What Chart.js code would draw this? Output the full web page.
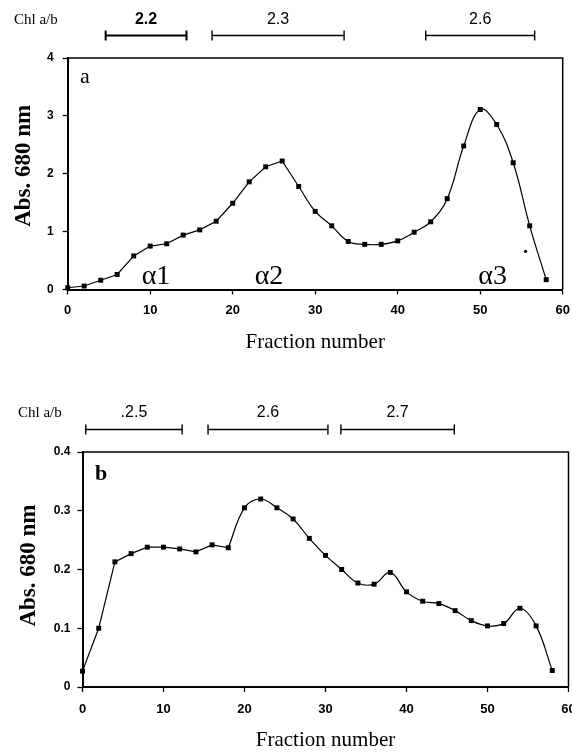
<!DOCTYPE html>
<html>
<head>
<meta charset="utf-8">
<script src="https://cdn.jsdelivr.net/npm/chart.js@4"></script>
<style>
  html, body { margin: 0; padding: 0; background: #fff; overflow: hidden; width: 572px; height: 753px; }
  .wrap { position: absolute; left: 0; width: 600px; }
</style>
</head>
<body>
<div class="wrap" style="top:0;height:375px"><canvas id="chartA"></canvas></div>
<div class="wrap" style="top:375px;height:378px"><canvas id="chartB"></canvas></div>
<script>
// fraction numbers (x) shared by both panels
const fractions = [0, 2, 4, 6, 8, 10, 12, 14, 16, 18, 20, 22, 24, 26, 28,
  30, 32, 34, 36, 38, 40, 42, 44, 46, 48, 50, 52, 54, 56, 58];

// panel a: Abs. 680 nm
const absA = [0.03, 0.06, 0.16, 0.26, 0.58, 0.75, 0.79, 0.94, 1.03, 1.18, 1.49, 1.86, 2.12, 2.22, 1.78,
  1.35, 1.10, 0.83, 0.78, 0.78, 0.84, 0.99, 1.17, 1.57, 2.48, 3.11, 2.85, 2.19, 1.10, 0.17];
const strayFractionA = [55.5];
const strayAbsA = [0.66];

// panel b: Abs. 680 nm
const absB = [0.027, 0.100, 0.213, 0.227, 0.238, 0.238, 0.235, 0.230, 0.242, 0.237, 0.305, 0.320, 0.305, 0.286, 0.253,
  0.224, 0.200, 0.177, 0.175, 0.195, 0.162, 0.146, 0.142, 0.130, 0.113, 0.104, 0.108, 0.134, 0.104, 0.028];

// Chl a/b ranges (fraction numbers) drawn above each panel
const chlRangesA = [[4.6, 14.4], [17.5, 33.5], [43.4, 56.6]];
const chlLabelsA = ['2.2', '2.3', '2.6'];
const chlRangesB = [[0.4, 12.3], [15.5, 30.3], [31.9, 45.9]];
const chlLabelsB = ['.2.5', '2.6', '2.7'];

// peak names in panel a
const peakLabelsA = ['\u03b11', '\u03b12', '\u03b13'];
const peakFractionA = [10.7, 24.4, 51.5];

const pts = (xs, ys) => xs.map((x, i) => ({ x: x, y: ys[i] }));

const decor = {
  id: 'decor',
  afterDraw(chart, args, o) {
    const { ctx, chartArea: a, scales: { x, y } } = chart;
    ctx.save();
    ctx.strokeStyle = '#000';
    ctx.fillStyle = '#000';

    // top and right frame
    ctx.lineWidth = 1.5;
    ctx.beginPath();
    ctx.moveTo(a.left, a.top);
    ctx.lineTo(a.right, a.top);
    ctx.lineTo(a.right, a.bottom);
    ctx.stroke();

    // y axis title
    ctx.save();
    ctx.translate(o.yTitleX, (a.top + a.bottom) / 2 + o.yTitleShift);
    ctx.rotate(-Math.PI / 2);
    ctx.font = 'bold 23px "Liberation Serif"';
    ctx.textAlign = 'center';
    ctx.textBaseline = 'middle';
    ctx.fillText('Abs. 680 nm', 0, 0);
    ctx.restore();

    // Chl a/b bars
    const yb = a.top - o.barGap;
    o.ranges.forEach((r, i) => {
      const x0 = x.getPixelForValue(r[0]), x1 = x.getPixelForValue(r[1]);
      ctx.lineWidth = i === 0 && o.boldFirst ? 2 : 1.4;
      ctx.beginPath();
      ctx.moveTo(x0, yb); ctx.lineTo(x1, yb);
      ctx.moveTo(x0, yb - 5); ctx.lineTo(x0, yb + 5);
      ctx.moveTo(x1, yb - 5); ctx.lineTo(x1, yb + 5);
      ctx.stroke();
      ctx.font = (i === 0 && o.boldFirst ? 'bold ' : '') + '16px "Liberation Sans"';
      ctx.textAlign = 'center';
      ctx.textBaseline = 'alphabetic';
      ctx.fillText(o.labels[i], (x0 + x1) / 2, a.top - o.labelGap);
    });
    ctx.font = '15px "Liberation Serif"';
    ctx.textAlign = 'left';
    ctx.fillText('Chl a/b', o.chlX, a.top - o.labelGap);

    // panel letter
    ctx.font = o.letterFont;
    ctx.fillText(o.letter, x.getPixelForValue(o.letterPos[0]), y.getPixelForValue(o.letterPos[1]));

    // peak names
    if (o.peaks) {
      ctx.font = '28px "Liberation Serif"';
      ctx.textAlign = 'center';
      o.peaks.forEach((t, i) => {
        ctx.fillText(t, x.getPixelForValue(o.peakPos[i]), y.getPixelForValue(o.peakY));
      });
    }
    ctx.restore();
  }
};

function makeChart(id, ys, split, cfg) {
  return new Chart(document.getElementById(id), {
    type: 'line',
    data: {
      datasets: [
        {
          data: pts(fractions, ys), showLine: false, clip: false,
          pointStyle: 'rect', pointRadius: 3.5, pointBackgroundColor: '#000', pointBorderWidth: 0
        },
        {
          data: pts(fractions, ys).slice(0, split + 1), borderColor: '#000', borderWidth: 1.2,
          pointRadius: 0, tension: 0
        },
        {
          data: pts(fractions, ys).slice(split), borderColor: '#000', borderWidth: 1.2,
          pointRadius: 0, tension: 0.4
        }
      ].concat(cfg.extra || [])
    },
    options: {
      responsive: true,
      maintainAspectRatio: false,
      animation: false,
      layout: { padding: { left: 0, top: cfg.top, right: cfg.right, bottom: 0 } },
      plugins: { legend: { display: false }, tooltip: { enabled: false }, decor: cfg.decor },
      scales: {
        x: {
          type: 'linear', min: 0, max: 60,
          afterFit: s => { s.height = cfg.xHeight; },
          ticks: { stepSize: 10, color: '#000', padding: cfg.xTickPad, maxRotation: 0, font: { family: 'Liberation Sans', weight: 'bold', size: 13 } },
          grid: { drawOnChartArea: false, tickLength: 5, color: '#000', tickWidth: 1.3 },
          border: { color: '#000', width: 2 },
          title: { display: true, text: 'Fraction number', color: '#000', padding: { top: 0, bottom: cfg.xTitlePad }, font: { family: 'Liberation Serif', size: 21 } }
        },
        y: {
          min: 0, max: cfg.yMax,
          afterFit: s => { s.width = cfg.yWidth; },
          ticks: { stepSize: cfg.yStep, color: '#000', padding: cfg.yTickPad, font: { family: 'Liberation Sans', weight: 'bold', size: 12 } },
          grid: { drawOnChartArea: false, tickLength: 5, color: '#000', tickWidth: 1.3 },
          border: { color: '#000', width: 2 },
          title: { display: false }
        }
      }
    },
    plugins: [decor]
  });
}

makeChart('chartA', absA, 13, {
  top: 58, right: 37.3, xHeight: 85.5, xTitlePad: 20, xTickPad: 8, yWidth: 67.7, yTickPad: 9, yMax: 4, yStep: 1,
  extra: [{
    data: pts(strayFractionA, strayAbsA), showLine: false,
    pointStyle: 'circle', pointRadius: 1.6, pointBackgroundColor: '#000', pointBorderWidth: 0
  }],
  decor: {
    ranges: chlRangesA, labels: chlLabelsA, boldFirst: true, barGap: 22.5, labelGap: 34, chlX: 14,
    yTitleX: 24, yTitleShift: -8,
    letter: 'a', letterFont: '22px "Liberation Serif"', letterPos: [1.5, 3.57],
    peaks: peakLabelsA, peakPos: peakFractionA, peakY: 0.1
  }
});

makeChart('chartB', absB, 9, {
  top: 77, right: 31.5, xHeight: 66, xTitlePad: 0, xTickPad: 10, yWidth: 82.5, yTickPad: 7, yMax: 0.4, yStep: 0.1,
  decor: {
    ranges: chlRangesB, labels: chlLabelsB, boldFirst: false, barGap: 22.5, labelGap: 35, chlX: 18,
    yTitleX: 29, yTitleShift: -4,
    letter: 'b', letterFont: 'bold 22px "Liberation Serif"', letterPos: [1.55, 0.353]
  }
});
</script>
</body>
</html>
